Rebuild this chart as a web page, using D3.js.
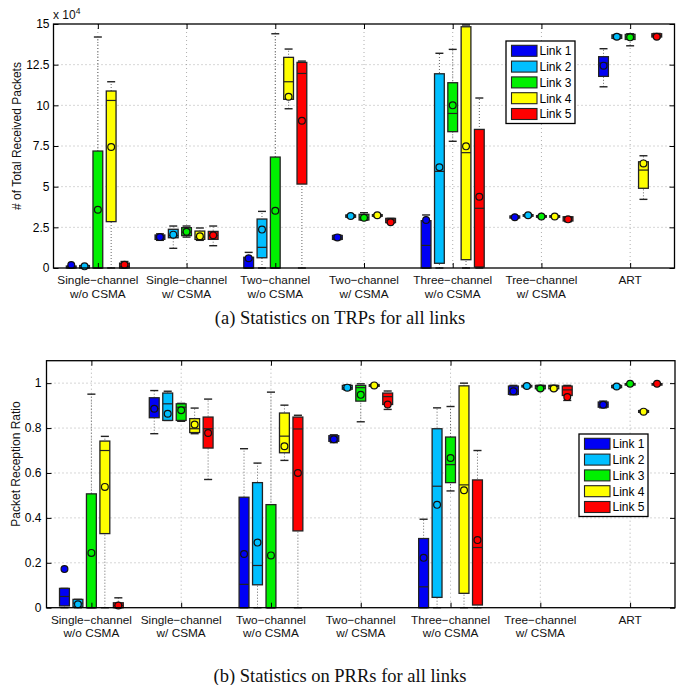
<!DOCTYPE html>
<html><head><meta charset="utf-8">
<script src="https://cdn.jsdelivr.net/npm/d3@7"></script>
<style>
body{margin:0;background:#fff;}
text{font-family:"Liberation Sans",Arial,Helvetica,sans-serif;}
</style></head>
<body><svg id="chart" width="678" height="685"></svg>
<script>
// ---------------- data ----------------
const categories = [
  ["Single\u2212channel","w/o CSMA"],
  ["Single\u2212channel","w/ CSMA"],
  ["Two\u2212channel","w/o CSMA"],
  ["Two\u2212channel","w/ CSMA"],
  ["Three\u2212channel","w/o CSMA"],
  ["Tree\u2212channel","w/ CSMA"],
  ["ART"]
];
const links = ["Link 1","Link 2","Link 3","Link 4","Link 5"];
const linkColors = ["#0000f5","#00bfff","#00f000","#ffff00","#ff0000"];
const statFields = ["low","q1","median","q3","high","mean"];

// Total received packets (x 10^4): per category, per link: [low, q1, median, q3, high, mean]
const trpStats = [
  [[0,0,0.03,0.12,0.12,0.18],[0,0,0.03,0.15,0.15,0.1],[0,0,0,7.19,14.2,3.58],[0,2.85,10.3,10.88,11.45,7.44],[0,0,0.1,0.3,0.4,0.2]],
  [[1.7,1.76,1.9,2.03,2.1,1.9],[1.21,1.86,2.0,2.38,2.58,2.05],[1.9,1.99,2.2,2.48,2.58,2.23],[1.7,1.76,1.9,2.27,2.46,1.95],[1.37,1.76,2.0,2.25,2.58,2.01]],
  [[0,0,0,0.66,0.96,0.6],[0,0.63,1.27,3.01,3.48,2.36],[0,0,0,6.82,14.4,3.52],[9.79,10.37,11.45,12.95,13.46,10.53],[0,5.16,11.96,12.64,12.72,9.05]],
  [[1.74,1.76,1.85,2.0,2.03,1.88],[3.1,3.12,3.2,3.26,3.28,3.2],[2.95,2.95,3.1,3.3,3.4,3.09],[3.15,3.18,3.22,3.28,3.3,3.24],[2.75,2.79,2.95,3.05,3.05,2.81]],
  [[0,0,1.39,2.91,3.26,2.95],[0,0.29,5.94,11.94,13.2,6.19],[7.79,8.38,9.5,11.39,13.44,10.0],[0,0.51,7.09,14.83,14.94,7.48],[0,0.06,3.67,8.52,10.45,4.38]],
  [[3.05,3.07,3.12,3.2,3.2,3.12],[3.15,3.18,3.24,3.28,3.3,3.24],[3.1,3.12,3.17,3.22,3.22,3.17],[3.1,3.12,3.17,3.22,3.22,3.17],[2.85,2.89,3.1,3.15,3.15,2.99]],
  [[11.14,11.78,12.6,12.99,13.48,12.44],[14.1,14.12,14.25,14.33,14.35,14.22],[13.66,14.05,14.2,14.36,14.4,14.18],[4.22,4.9,6.02,6.53,6.9,6.43],[14.15,14.2,14.3,14.4,14.42,14.22]]
];
const trpTicks = [0,2.5,5,7.5,10,12.5,15];
const trpTickLabels = ["0","2.5","5","7.5","10","12.5","15"];

// Packet reception ratio: per category, per link: [low, q1, median, q3, high, mean]
const prrStats = [
  [[0,0.008,0.05,0.086,0.086,0.172],[0,0.003,0.02,0.037,0.037,0.015],[0,0,0,0.507,0.951,0.244],[0,0.33,0.70,0.742,0.763,0.538],[0,0,0.01,0.022,0.044,0.01]],
  [[0.775,0.846,0.886,0.935,0.967,0.886],[0.834,0.834,0.908,0.956,0.964,0.864],[0.83,0.834,0.893,0.908,0.91,0.879],[0.775,0.78,0.797,0.842,0.889,0.816],[0.571,0.711,0.797,0.849,0.929,0.778]],
  [[0,0,0.104,0.492,0.708,0.239],[0,0.102,0.188,0.557,0.644,0.29],[0,0,0,0.459,0.96,0.233],[0.656,0.69,0.764,0.867,0.902,0.719],[0,0.342,0.796,0.849,0.857,0.60]],
  [[0.735,0.741,0.755,0.766,0.77,0.75],[0.97,0.973,0.98,0.99,0.992,0.98],[0.828,0.92,0.98,0.99,0.997,0.948],[0.985,0.986,0.99,0.993,0.995,0.99],[0.883,0.905,0.94,0.956,0.965,0.905]],
  [[0,0,0.093,0.308,0.394,0.222],[0,0.046,0.541,0.797,0.89,0.458],[0.52,0.557,0.637,0.76,0.896,0.667],[0,0.064,0.547,0.988,1.0,0.523],[0,0.012,0.268,0.569,0.70,0.301]],
  [[0.948,0.95,0.965,0.987,0.99,0.964],[0.98,0.983,0.987,0.99,0.992,0.987],[0.97,0.975,0.985,0.99,0.99,0.976],[0.97,0.975,0.985,0.99,0.99,0.976],[0.923,0.945,0.97,0.987,0.99,0.938]],
  [[0.89,0.893,0.905,0.916,0.92,0.904],[0.978,0.98,0.987,0.99,0.992,0.985],[0.995,0.996,0.997,0.998,0.999,0.997],[0.868,0.87,0.873,0.878,0.88,0.873],[0.995,0.996,0.997,0.998,0.999,0.997]]
];
const prrTicks = [0,0.2,0.4,0.6,0.8,1];
const prrTickLabels = ["0","0.2","0.4","0.6","0.8","1"];

// ---------------- drawing ----------------
const svg = d3.select("#chart");

function panel(opt){
  const g = svg.append("g");
  const x = d3.scaleLinear().domain([0.5,7.5]).range([opt.left,opt.right]);
  const y = d3.scaleLinear().domain(opt.yDomain).range([opt.bottom,opt.top]);
  const boxOffset = 0.15, boxW = x(0.11)-x(0), capW = x(0.09)-x(0);

  // grid
  g.append("g").selectAll("line.gy").data(opt.ticks.filter(t=>t>0 && t<opt.yDomain[1])).join("line")
    .attr("x1",opt.left).attr("x2",opt.right).attr("y1",d=>y(d)).attr("y2",d=>y(d))
    .attr("stroke","#999").attr("stroke-width",0.8).attr("stroke-dasharray","1,3");
  g.append("g").selectAll("line.gx").data(d3.range(1,8)).join("line")
    .attr("x1",d=>x(d)).attr("x2",d=>x(d)).attr("y1",opt.top).attr("y2",opt.bottom)
    .attr("stroke","#999").attr("stroke-width",0.8).attr("stroke-dasharray","1,3");

  // boxes
  const items = [];
  opt.stats.forEach((grp,gi)=>grp.forEach((s,li)=>{
    const o = {}; statFields.forEach((f,k)=>o[f]=s[k]);
    o.cx = x(gi+1+(li-2)*boxOffset); o.color = linkColors[li];
    items.push(o);
  }));
  const bg = g.append("g").selectAll("g").data(items).join("g");
  bg.append("line").attr("x1",d=>d.cx).attr("x2",d=>d.cx)
    .attr("y1",d=>y(d.low)).attr("y2",d=>y(d.high))
    .attr("stroke","#666").attr("stroke-width",1).attr("stroke-dasharray","1,2");
  bg.append("line")
    .attr("x1",d=>d.cx-capW/2).attr("x2",d=>d.cx+capW/2)
    .attr("y1",d=>y(d.high)).attr("y2",d=>y(d.high))
    .attr("stroke","#222").attr("stroke-width",1.4);
  bg.append("line")
    .attr("x1",d=>d.cx-capW/2).attr("x2",d=>d.cx+capW/2)
    .attr("y1",d=>y(d.low)).attr("y2",d=>y(d.low))
    .attr("stroke","#222").attr("stroke-width",1.4);
  bg.append("rect").attr("x",d=>d.cx-boxW/2).attr("width",boxW)
    .attr("y",d=>y(d.q3)).attr("height",d=>Math.max(1.5,y(d.q1)-y(d.q3)))
    .attr("fill",d=>d.color).attr("stroke","#222").attr("stroke-width",1.3);
  bg.append("line").attr("x1",d=>d.cx-boxW/2).attr("x2",d=>d.cx+boxW/2)
    .attr("y1",d=>y(d.median)).attr("y2",d=>y(d.median))
    .attr("stroke","#222").attr("stroke-width",1.2);
  bg.append("circle").attr("cx",d=>d.cx).attr("cy",d=>y(d.mean)).attr("r",3.4)
    .attr("fill",d=>d.color).attr("stroke","#111").attr("stroke-width",1.2);

  // frame + axes
  g.append("rect").attr("x",opt.left).attr("y",opt.top).attr("width",opt.right-opt.left)
    .attr("height",opt.bottom-opt.top).attr("fill","none").attr("stroke","#000").attr("stroke-width",1.3);
  const ya = g.append("g").attr("transform",`translate(${opt.left},0)`)
    .call(d3.axisLeft(y).tickValues(opt.ticks).tickFormat((d,i)=>opt.tickLabels[i]).tickSizeInner(-5).tickSizeOuter(0).tickPadding(opt.tickPad));
  ya.select(".domain").remove();
  ya.selectAll("text").attr("font-size",12).attr("fill","#000").style("font-family","'Liberation Sans',Arial,sans-serif");
  const yr = g.append("g").attr("transform",`translate(${opt.right},0)`)
    .call(d3.axisRight(y).tickValues(opt.ticks).tickFormat("").tickSizeInner(-5).tickSizeOuter(0));
  yr.select(".domain").remove();
  const xb = g.append("g").attr("transform",`translate(0,${opt.bottom})`)
    .call(d3.axisBottom(x).tickValues(d3.range(1,8)).tickFormat("").tickSizeInner(-5).tickSizeOuter(0));
  xb.select(".domain").remove();
  const xt = g.append("g").attr("transform",`translate(0,${opt.top})`)
    .call(d3.axisTop(x).tickValues(d3.range(1,8)).tickFormat("").tickSizeInner(-5).tickSizeOuter(0));
  xt.select(".domain").remove();
  g.selectAll(".tick line").attr("stroke","#000").attr("stroke-width",1);

  // category labels
  const cl = g.append("g").selectAll("text").data(categories).join("text")
    .attr("x",(d,i)=>x(i+1)).attr("y",opt.bottom+16)
    .attr("text-anchor","middle").attr("font-size",11.8).attr("fill","#111");
  cl.selectAll("tspan").data(d=>d).join("tspan")
    .attr("x",function(){return this.parentNode.getAttribute("x");})
    .attr("dy",(d,i)=>i===0?0:13.5).text(d=>d);

  // y label
  g.append("text").attr("transform",`translate(${opt.ylabelX},${opt.ylabelY}) rotate(-90)`)
    .attr("text-anchor","middle").attr("font-size",12).attr("fill","#111").text(opt.ylabel);

  // legend
  const lg = g.append("g");
  lg.append("rect").attr("x",opt.legX).attr("y",opt.legY).attr("width",69).attr("height",82.5)
    .attr("fill","#fff").attr("stroke","#000").attr("stroke-width",1.3);
  links.forEach((l,i)=>{
    const cy = opt.legY+9.8+i*15.8;
    lg.append("rect").attr("x",opt.legX+5.5).attr("y",cy-5.5).attr("width",25.5).attr("height",11)
      .attr("fill",linkColors[i]).attr("stroke","#222").attr("stroke-width",1.1);
    lg.append("text").attr("x",opt.legX+33.5).attr("y",cy+4.3).attr("font-size",12).attr("fill","#000").text(l);
  });

  // caption
  svg.append("text").attr("x",340).attr("y",opt.captionY).attr("text-anchor","middle")
    .style("font-family","'Liberation Serif','DejaVu Serif',serif").attr("font-size",18.5).attr("fill","#111")
    .text(opt.caption);
  return {x,y};
}

panel({left:53.5,right:674.5,top:24,bottom:268,yDomain:[0,15],ticks:trpTicks,tickLabels:trpTickLabels,
  stats:trpStats,tickPad:4,ylabel:"# of Total Received Packets",ylabelX:21,ylabelY:136,
  legX:506,legY:41,caption:"(a) Statistics on TRPs for all links",captionY:324});
// exponent label
const ex = svg.append("text").attr("x",53).attr("y",19).attr("font-size",12).attr("fill","#111");
ex.append("tspan").text("x 10");
ex.append("tspan").attr("dy",-5).attr("font-size",8.5).text("4");

panel({left:46.5,right:675,top:360.7,bottom:607.7,yDomain:[0,1.1],ticks:prrTicks,tickLabels:prrTickLabels,
  stats:prrStats,tickPad:5,ylabel:"Packet Reception Ratio",ylabelX:20,ylabelY:464,
  legX:579,legY:434,caption:"(b) Statistics on PRRs for all links",captionY:682});
</script></body></html>
